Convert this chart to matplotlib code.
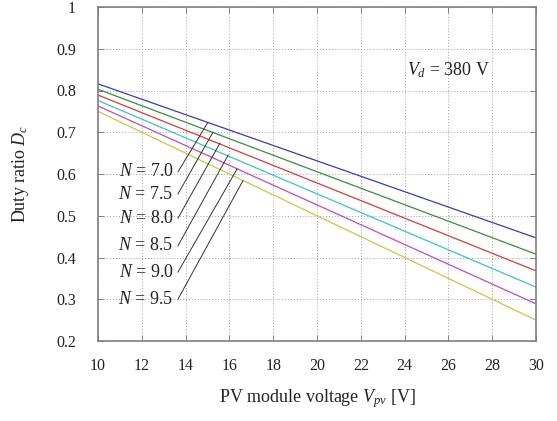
import matplotlib
matplotlib.use("Agg")
import matplotlib.pyplot as plt

# Data (straight lines: values at Vpv = 10 and 30)
v_pv = [10, 30]
n_values = ["7.0", "7.5", "8.0", "8.5", "9.0", "9.5"]
d_at_10 = [0.816, 0.803, 0.789, 0.776, 0.763, 0.750]
d_at_30 = [0.447, 0.408, 0.368, 0.329, 0.289, 0.250]
colors = ["#3c3cb0", "#3f8a3f", "#d43c3c", "#3cc4c4", "#bc4cbc", "#c8c846"]

# annotation anchor points on the lines and label positions
anchor_x = [15.0, 15.25, 15.57, 15.94, 16.35, 16.62]
anchor_y = [0.722, 0.700, 0.674, 0.645, 0.612, 0.584]
label_y = [0.605, 0.552, 0.494, 0.428, 0.365, 0.300]

x_ticks = [10, 12, 14, 16, 18, 20, 22, 24, 26, 28, 30]
y_ticks = [0.2, 0.3, 0.4, 0.5, 0.6, 0.7, 0.8, 0.9, 1.0]
y_ticklabels = ["0.2", "0.3", "0.4", "0.5", "0.6", "0.7", "0.8", "0.9", "1"]

plt.rcParams["font.family"] = ["Liberation Serif", "DejaVu Serif"]
plt.rcParams["mathtext.fontset"] = "custom"
plt.rcParams["mathtext.rm"] = "Liberation Serif"
plt.rcParams["mathtext.it"] = "Liberation Serif:italic"

fig = plt.figure(figsize=(5.57, 4.21), dpi=100)
ax = fig.add_axes([98 / 557, 1 - 341 / 421, (536 - 98) / 557, (341 - 7) / 421])

for d0, d1, c in zip(d_at_10, d_at_30, colors):
    ax.plot(v_pv, [d0, d1], color=c, lw=0.9)

for n, ax_, ay, ly in zip(n_values, anchor_x, anchor_y, label_y):
    ax.plot([13.65, ax_], [ly, ay], color="#333333", lw=0.7)
    ax.text(13.45, ly, r"$N$ = " + n, ha="right", va="center", fontsize=13,
            color="#222222")

ax.text(24.1, 0.849, r"$V_d$ = 380 V", ha="left", va="center", fontsize=13,
        color="#222222")

ax.set_xlim(10, 30)
ax.set_ylim(0.2, 1.0)
ax.set_xticks(x_ticks)
ax.set_yticks(y_ticks)
ax.set_yticklabels(y_ticklabels)
ax.grid(True, linestyle=(0, (1, 2)), color="#a0a0a0", lw=0.7)
ax.tick_params(direction="in", length=4, width=0.7, colors="#808080",
               labelcolor="#222222", labelsize=11.5, top=True, right=True)
ax.tick_params(axis="x", pad=12)
ax.tick_params(axis="y", pad=16)
for s in ax.spines.values():
    s.set_color("#808080")
    s.set_linewidth(1.2)

ax.set_xlabel(r"PV module voltage $V_{pv}$ [V]", fontsize=13, labelpad=10,
              color="#222222")
ax.set_ylabel(r"Duty ratio $D_c$", fontsize=13, labelpad=18, color="#222222")

fig.savefig("out.png", dpi=100)
